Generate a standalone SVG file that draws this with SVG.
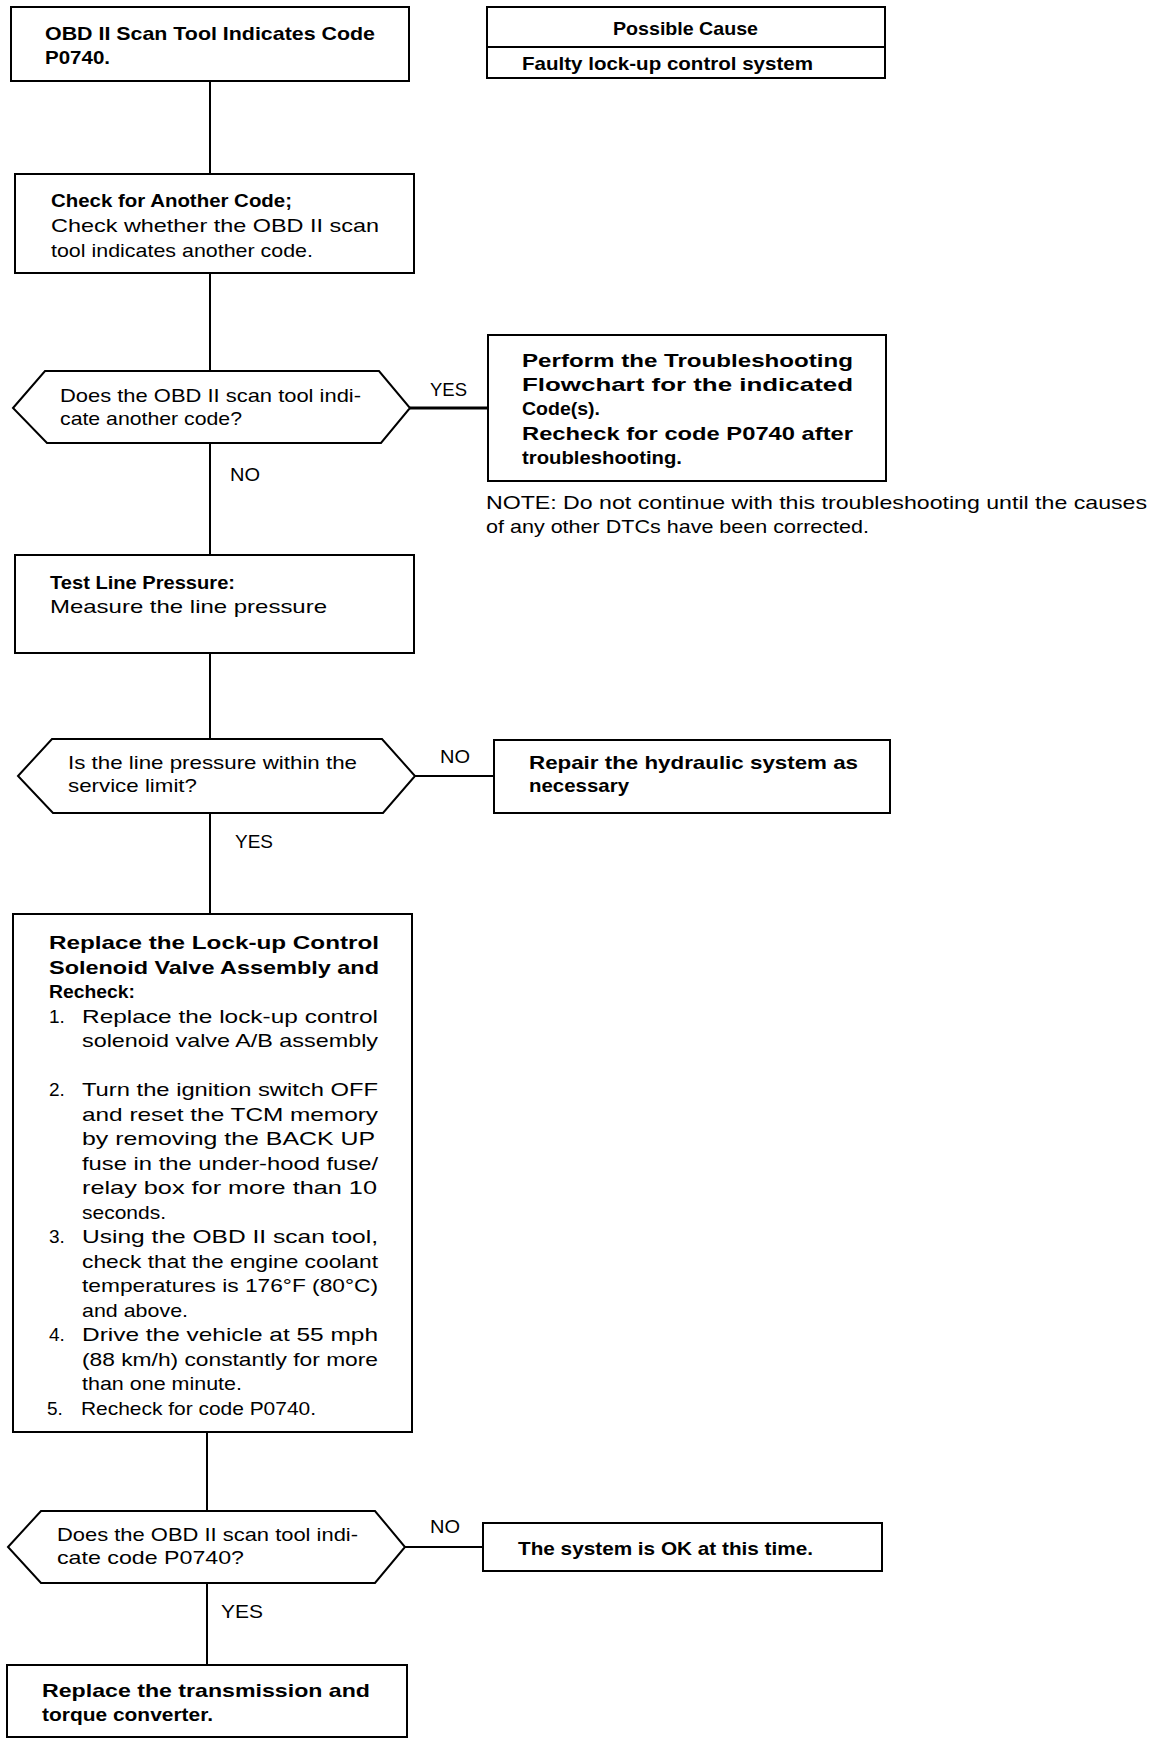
<svg xmlns="http://www.w3.org/2000/svg" width="1168" height="1744" viewBox="0 0 1168 1744">
<style>
.box{fill:#fff;stroke:#000;stroke-width:2}
.conn{stroke:#000;stroke-width:2;fill:none}
.thick{stroke-width:3}
text{font-family:"Liberation Sans",Arial,Helvetica,sans-serif;font-size:19px;fill:#000}
.b{font-weight:bold}
</style>
<rect width="1168" height="1744" fill="#fff"/>
<g id="connectors">
<line class="conn" x1="210" y1="81" x2="210" y2="174"/>
<line class="conn" x1="210" y1="273" x2="210" y2="371"/>
<line class="conn" x1="210" y1="443" x2="210" y2="555"/>
<line class="conn thick" x1="410" y1="408" x2="488" y2="408"/>
<line class="conn" x1="210" y1="653" x2="210" y2="739"/>
<line class="conn" x1="415" y1="776" x2="494" y2="776"/>
<line class="conn" x1="210" y1="813" x2="210" y2="914"/>
<line class="conn" x1="207" y1="1432" x2="207" y2="1511"/>
<line class="conn" x1="405" y1="1547" x2="483" y2="1547"/>
<line class="conn" x1="207" y1="1583" x2="207" y2="1665"/>
<text x="430" y="396" textLength="37" lengthAdjust="spacingAndGlyphs">YES</text>
<text x="230" y="481" textLength="30" lengthAdjust="spacingAndGlyphs">NO</text>
<text x="440" y="763" textLength="30" lengthAdjust="spacingAndGlyphs">NO</text>
<text x="235" y="848" textLength="38" lengthAdjust="spacingAndGlyphs">YES</text>
<text x="430" y="1533" textLength="30" lengthAdjust="spacingAndGlyphs">NO</text>
<text x="221" y="1618" textLength="42" lengthAdjust="spacingAndGlyphs">YES</text>
</g>
<g id="start">
<rect class="box" x="11" y="7" width="398" height="74"/>
<text class="b" x="45" y="40" textLength="330" lengthAdjust="spacingAndGlyphs">OBD II Scan Tool Indicates Code</text>
<text class="b" x="45" y="64" textLength="65" lengthAdjust="spacingAndGlyphs">P0740.</text>
</g>
<g id="possible-cause">
<rect class="box" x="487" y="7" width="398" height="40"/>
<rect class="box" x="487" y="47" width="398" height="31"/>
<text class="b" x="613" y="35" textLength="145" lengthAdjust="spacingAndGlyphs">Possible Cause</text>
<text class="b" x="522" y="70" textLength="291" lengthAdjust="spacingAndGlyphs">Faulty lock-up control system</text>
</g>
<g id="check-code">
<rect class="box" x="15" y="174" width="399" height="99"/>
<text class="b" x="51" y="207" textLength="241" lengthAdjust="spacingAndGlyphs">Check for Another Code;</text>
<text x="51" y="232" textLength="328" lengthAdjust="spacingAndGlyphs">Check whether the OBD II scan</text>
<text x="51" y="257" textLength="262" lengthAdjust="spacingAndGlyphs">tool indicates another code.</text>
</g>
<g id="decision-another">
<polygon class="box" points="13,408 45,371 379,371 410,408 381,443 47,443"/>
<text x="60" y="402" textLength="301" lengthAdjust="spacingAndGlyphs">Does the OBD II scan tool indi-</text>
<text x="60" y="425" textLength="182" lengthAdjust="spacingAndGlyphs">cate another code?</text>
</g>
<g id="perform">
<rect class="box" x="488" y="335" width="398" height="146"/>
<text class="b" x="522" y="367" textLength="331" lengthAdjust="spacingAndGlyphs">Perform the Troubleshooting</text>
<text class="b" x="522" y="391" textLength="331" lengthAdjust="spacingAndGlyphs">Flowchart for the indicated</text>
<text class="b" x="522" y="415" textLength="78" lengthAdjust="spacingAndGlyphs">Code(s).</text>
<text class="b" x="522" y="440" textLength="331" lengthAdjust="spacingAndGlyphs">Recheck for code P0740 after</text>
<text class="b" x="522" y="464" textLength="160" lengthAdjust="spacingAndGlyphs">troubleshooting.</text>
</g>
<g id="note">
<text x="486" y="509" textLength="661" lengthAdjust="spacingAndGlyphs">NOTE: Do not continue with this troubleshooting until the causes</text>
<text x="486" y="533" textLength="383" lengthAdjust="spacingAndGlyphs">of any other DTCs have been corrected.</text>
</g>
<g id="test-pressure">
<rect class="box" x="15" y="555" width="399" height="98"/>
<text class="b" x="50" y="589" textLength="185" lengthAdjust="spacingAndGlyphs">Test Line Pressure:</text>
<text x="50" y="613" textLength="277" lengthAdjust="spacingAndGlyphs">Measure the line pressure</text>
</g>
<g id="decision-pressure">
<polygon class="box" points="18,776 52,739 382,739 415,776 383,813 53,813"/>
<text x="68" y="769" textLength="289" lengthAdjust="spacingAndGlyphs">Is the line pressure within the</text>
<text x="68" y="792" textLength="129" lengthAdjust="spacingAndGlyphs">service limit?</text>
</g>
<g id="repair">
<rect class="box" x="494" y="740" width="396" height="73"/>
<text class="b" x="529" y="769" textLength="329" lengthAdjust="spacingAndGlyphs">Repair the hydraulic system as</text>
<text class="b" x="529" y="792" textLength="100" lengthAdjust="spacingAndGlyphs">necessary</text>
</g>
<g id="replace-solenoid">
<rect class="box" x="13" y="914" width="399" height="518"/>
<text class="b" x="49" y="949" textLength="330" lengthAdjust="spacingAndGlyphs">Replace the Lock-up Control</text>
<text class="b" x="49" y="973.5" textLength="330" lengthAdjust="spacingAndGlyphs">Solenoid Valve Assembly and</text>
<text class="b" x="49" y="998" textLength="86" lengthAdjust="spacingAndGlyphs">Recheck:</text>
<text x="49" y="1022.5">1.</text>
<text x="82" y="1022.5" textLength="296" lengthAdjust="spacingAndGlyphs">Replace the lock-up control</text>
<text x="82" y="1047" textLength="296" lengthAdjust="spacingAndGlyphs">solenoid valve A/B assembly</text>
<text x="49" y="1096">2.</text>
<text x="82" y="1096" textLength="296" lengthAdjust="spacingAndGlyphs">Turn the ignition switch OFF</text>
<text x="82" y="1120.5" textLength="296" lengthAdjust="spacingAndGlyphs">and reset the TCM memory</text>
<text x="82" y="1145" textLength="293" lengthAdjust="spacingAndGlyphs">by removing the BACK UP</text>
<text x="82" y="1169.5" textLength="296" lengthAdjust="spacingAndGlyphs">fuse in the under-hood fuse/</text>
<text x="82" y="1194" textLength="295" lengthAdjust="spacingAndGlyphs">relay box for more than 10</text>
<text x="82" y="1218.5" textLength="84" lengthAdjust="spacingAndGlyphs">seconds.</text>
<text x="49" y="1243">3.</text>
<text x="82" y="1243" textLength="296" lengthAdjust="spacingAndGlyphs">Using the OBD II scan tool,</text>
<text x="82" y="1267.5" textLength="296" lengthAdjust="spacingAndGlyphs">check that the engine coolant</text>
<text x="82" y="1292" textLength="296" lengthAdjust="spacingAndGlyphs">temperatures is 176°F (80°C)</text>
<text x="82" y="1316.5" textLength="106" lengthAdjust="spacingAndGlyphs">and above.</text>
<text x="49" y="1341">4.</text>
<text x="82" y="1341" textLength="296" lengthAdjust="spacingAndGlyphs">Drive the vehicle at 55 mph</text>
<text x="82" y="1365.5" textLength="296" lengthAdjust="spacingAndGlyphs">(88 km/h) constantly for more</text>
<text x="82" y="1390" textLength="160" lengthAdjust="spacingAndGlyphs">than one minute.</text>
<text x="47" y="1414.5">5.</text>
<text x="81" y="1414.5" textLength="235" lengthAdjust="spacingAndGlyphs">Recheck for code P0740.</text>
</g>
<g id="decision-code">
<polygon class="box" points="8,1547 41,1511 375,1511 405,1547 375,1583 41,1583"/>
<text x="57" y="1541" textLength="301" lengthAdjust="spacingAndGlyphs">Does the OBD II scan tool indi-</text>
<text x="57" y="1564" textLength="187" lengthAdjust="spacingAndGlyphs">cate code P0740?</text>
</g>
<g id="system-ok">
<rect class="box" x="483" y="1523" width="399" height="48"/>
<text class="b" x="518" y="1555" textLength="295" lengthAdjust="spacingAndGlyphs">The system is OK at this time.</text>
</g>
<g id="replace-transmission">
<rect class="box" x="7" y="1665" width="400" height="72"/>
<text class="b" x="42" y="1697" textLength="328" lengthAdjust="spacingAndGlyphs">Replace the transmission and</text>
<text class="b" x="42" y="1721" textLength="171" lengthAdjust="spacingAndGlyphs">torque converter.</text>
</g>
</svg>
